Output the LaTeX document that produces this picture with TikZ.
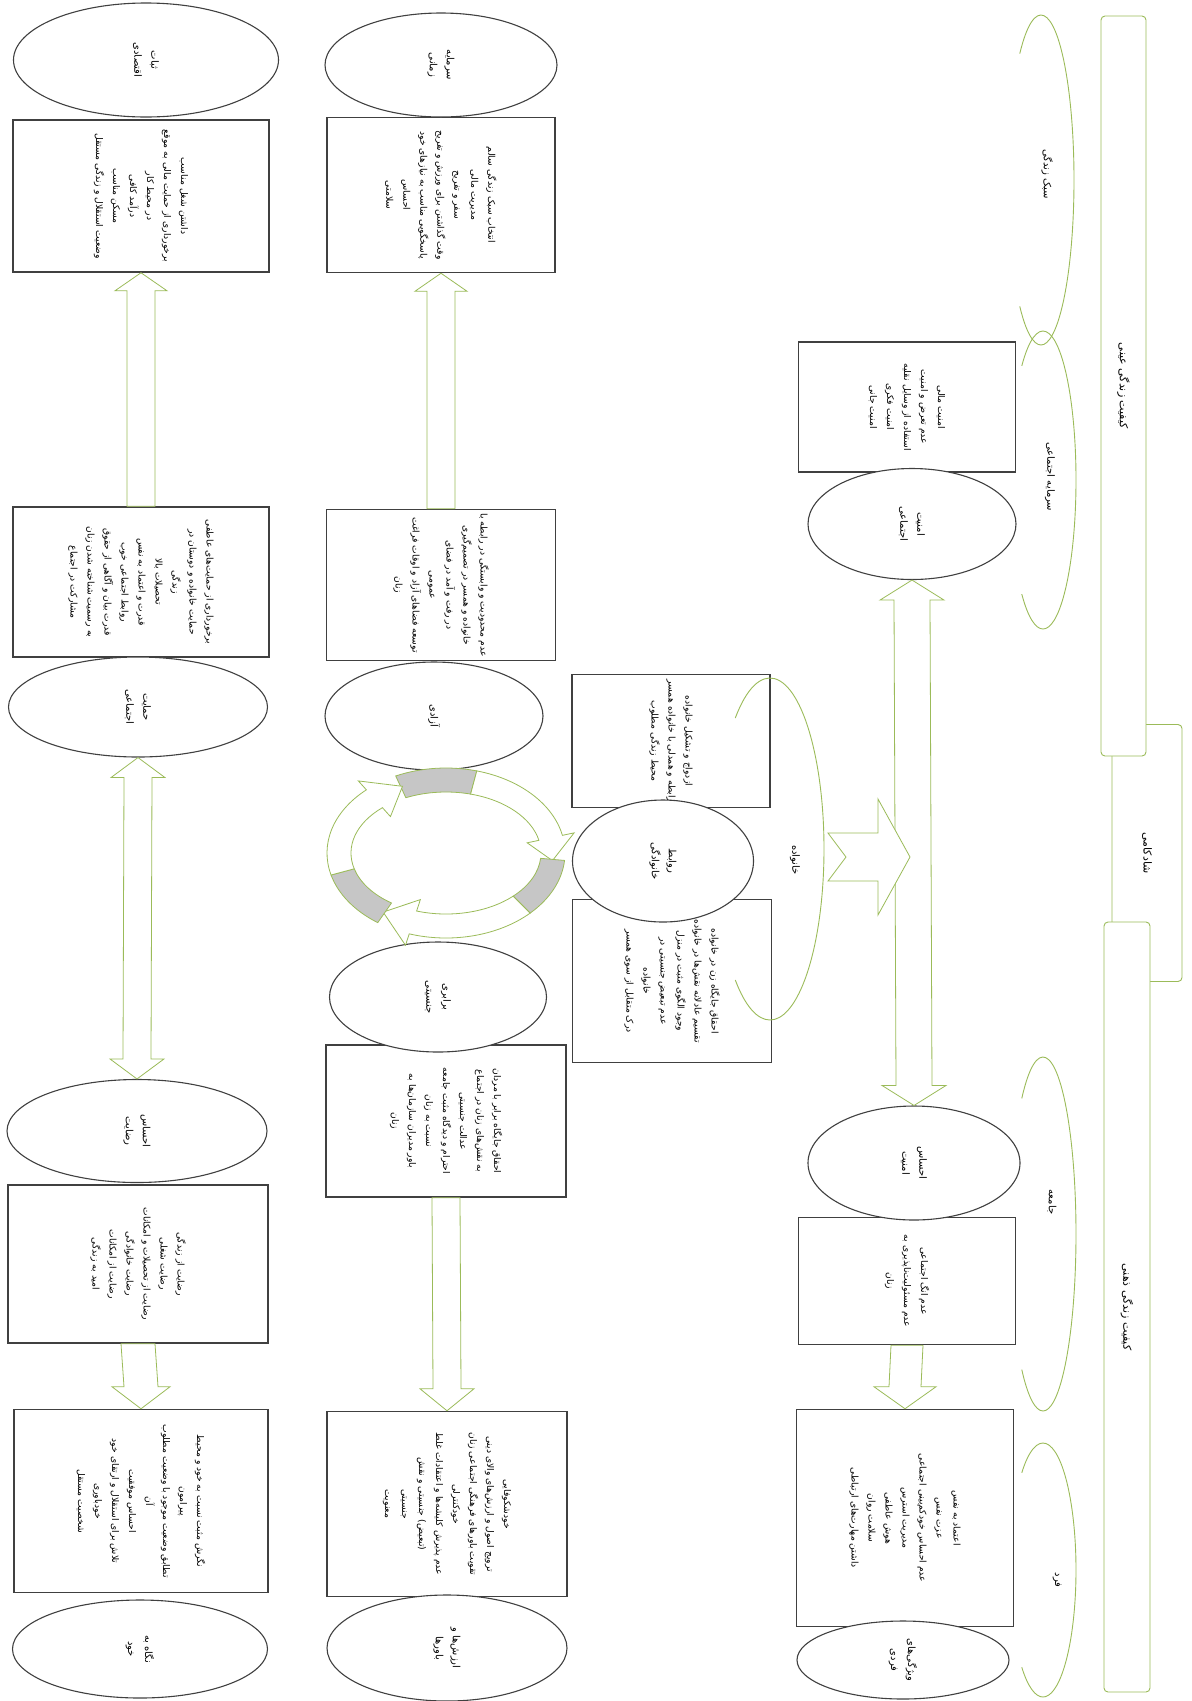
\documentclass[tikz,border=0pt]{standalone}
\usepackage{fontspec}
\newfontfamily\fafont[Script=Arabic]{DejaVu Sans}
\TeXXeTstate=1
\newcommand{\rl}[1]{\beginR#1\endR}
\definecolor{qlgreen}{HTML}{9BBB59}
\definecolor{qlgray}{HTML}{404040}
\usetikzlibrary{shapes.geometric, calc}

\begin{document}
\begin{tikzpicture}[
    x=1pt, y=-1pt,
    txt/.style={rotate=-90, align=center, inner sep=0pt,
                font=\fafont\fontsize{9.2}{17}\selectfont},
    itembox/.style={txt, draw=qlgray, line width=1.5pt, fill=white},
    factor/.style={txt, ellipse, draw=qlgray, line width=1.1pt, fill=white,
                   font=\fafont\fontsize{10}{17}\selectfont},
    qbar/.style={txt, draw=qlgreen, line width=0.9pt, rounded corners=4pt,
                 fill=white, font=\fafont\fontsize{11}{13}\selectfont},
    arclbl/.style={txt, font=\fafont\fontsize{10}{12}\selectfont},
    barr/.style={draw=qlgreen, line width=0.8pt, fill=white},
    garc/.style={draw=qlgreen, line width=0.9pt}
  ]
  \useasboundingbox (0,0) rectangle (1192,1701);

  % left column
  \node[itembox, minimum width=152pt, minimum height=256pt] (econbox) at (141,196)
    {\rl{داشتن شغل مناسب}\\\rl{برخورداری از حمایت مالی به موقع}\\\rl{در محیط کار}\\
     \rl{درآمد کافی}\\\rl{مسکن مناسب}\\\rl{وضعیت استقلال و زندگی مستقل}};
  \node[itembox, minimum width=150pt, minimum height=256pt] (suppbox) at (141,582)
    {\rl{برخورداری از حمایت‌های عاطفی}\\\rl{حمایت خانواده و دوستان در}\\\rl{زندگی}\\
     \rl{تحصیلات بالا}\\\rl{قدرت و اعتماد به نفس}\\\rl{روابط اجتماعی خوب}\\
     \rl{قدرت بیان و آگاهی از حقوق}\\\rl{به رسمیت شناخته شدن زنان}\\\rl{مشارکت در اجتماع}};
  \node[itembox, minimum width=158pt, minimum height=260pt] (satisbox) at (138,1264)
    {\rl{رضایت از زندگی}\\\rl{رضایت شغلی}\\\rl{رضایت از تحصیلات و امکانات}\\
     \rl{رضایت خانوادگی}\\\rl{رضایت از امکانات}\\\rl{امید به زندگی}};
  \node[itembox, minimum width=183pt, minimum height=254pt] (selfbox) at (141,1501)
    {\rl{نگرش مثبت نسبت به خود و محیط}\\\rl{پیرامون}\\\rl{تطابق وضعیت موجود با وضعیت مطلوب}\\
     \rl{آن}\\\rl{احساس موفقیت}\\\rl{تلاش برای استقلال و ارتقای خود}\\
     \rl{خودباوری}\\\rl{شخصیت مستقل}};

  % middle column
  \node[itembox, minimum width=155pt, minimum height=228pt] (capbox) at (441,195)
    {\rl{انتخاب سبک زندگی سالم}\\\rl{مدیریت مالی}\\\rl{سفر و تفریح}\\
     \rl{وقت گذاشتن برای ورزش و تفریح}\\\rl{پاسخگویی مناسب به نیازهای خود}\\
     \rl{احساس}\\\rl{سلامتی}};
  \node[itembox, minimum width=151pt, minimum height=229pt] (freebox) at (441,585)
    {\rl{عدم محدودیت و وابستگی در رابطه با}\\\rl{خانواده و همسر در تصمیم‌گیری}\\
     \rl{در رفت و آمد در فضای}\\\rl{عمومی}\\\rl{توسعه فضاهای آزاد و اوقات فراغت}\\\rl{زنان}};
  \node[itembox, minimum width=152pt, minimum height=240pt] (equalbox) at (446,1121)
    {\rl{احقاق جایگاه برابر با مردان}\\\rl{به نقش‌های زنان در اجتماع}\\
     \rl{عدالت جنسیتی}\\\rl{احترام و دیدگاه مثبت جامعه}\\\rl{نسبت به زنان}\\
     \rl{باور مدیران سازمان‌ها به}\\\rl{زنان}};
  \node[itembox, minimum width=185pt, minimum height=240pt] (beliefbox) at (447,1504)
    {\rl{خودشکوفایی}\\\rl{ترویج اصول و ارزش‌های والای دینی}\\
     \rl{تقویت باورهای فرهنگی اجتماعی زنان}\\\rl{خودکنترلی}\\
     \rl{عدم پذیرش کلیشه‌ها و اعتقادات غلط}\\\rl{(تبعیض) جنسیتی و نقش}\\
     \rl{جنسیتی}\\\rl{معنویت}};

  % family
  \node[itembox, minimum width=133pt, minimum height=198pt] (famtop) at (671,741)
    {\rl{ازدواج و تشکیل خانواده}\\\rl{رابطه و همدلی با خانواده همسر}\\\rl{محیط زندگی مطلوب}};
  \node[itembox, minimum width=163pt, minimum height=199pt] (fambot) at (672,981)
    {\rl{احقاق جایگاه زن در خانواده}\\\rl{تقسیم عادلانه نقش‌ها در خانواده}\\
     \rl{وجود الگوی مثبت در منزل}\\\rl{عدم تبعیض جنسیتی در}\\\rl{خانواده}\\
     \rl{درک متقابل از سوی همسر}};

  % right column
  \node[itembox, minimum width=130pt, minimum height=217pt] (secbox) at (907,407)
    {\rl{امنیت مالی}\\\rl{عدم تعرض و امنیت}\\\rl{استفاده از وسایل نقلیه}\\
     \rl{امنیت فکری}\\\rl{امنیت جانی}};
  \node[itembox, minimum width=127pt, minimum height=217pt] (feelbox) at (907,1281)
    {\rl{عدم انگ اجتماعی}\\\rl{عدم مسئولیت‌ناپذیری به}\\\rl{زنان}};
  \node[itembox, minimum width=217pt, minimum height=217pt] (indbox) at (905,1518)
    {\rl{اعتماد به نفس}\\\rl{عزت نفس}\\\rl{عدم احساس خودکم‌بینی اجتماعی}\\
     \rl{مدیریت استرس}\\\rl{هوش عاطفی}\\\rl{سلامت روان}\\\rl{داشتن مهارت‌های ارتباطی}};

  % ellipses
  \node[factor, minimum width=114pt, minimum height=265pt] (econ) at (146,60) {\rl{ثبات}\\\rl{اقتصادی}};
  \node[factor, minimum width=100pt, minimum height=259pt] (supp) at (138,707) {\rl{حمایت}\\\rl{اجتماعی}};
  \node[factor, minimum width=103pt, minimum height=260pt] (satis) at (137,1131) {\rl{احساس}\\\rl{رضایت}};
  \node[factor, minimum width=98pt, minimum height=255pt] (self) at (140,1649) {\rl{نگاه به}\\\rl{خود}};
  \node[factor, minimum width=104pt, minimum height=232pt] (cap) at (441,65) {\rl{سرمایه}\\\rl{زمانی}};
  \node[factor, minimum width=108pt, minimum height=218pt] (free) at (434,716) {\rl{آزادی}};
  \node[factor, minimum width=110pt, minimum height=217pt] (equal) at (438,997) {\rl{برابری}\\\rl{جنسیتی}};
  \node[factor, minimum width=106pt, minimum height=240pt] (belief) at (447,1648) {\rl{ارزش‌ها و}\\\rl{باورها}};
  \node[factor, minimum width=122pt, minimum height=181pt] (fam) at (663,861) {\rl{روابط}\\\rl{خانوادگی}};
  \node[factor, minimum width=111pt, minimum height=208pt] (socsec) at (912,524) {\rl{امنیت}\\\rl{اجتماعی}};
  \node[factor, minimum width=114pt, minimum height=212pt] (feelsec) at (914,1163) {\rl{احساس}\\\rl{امنیت}};
  \node[factor, minimum width=78pt, minimum height=212pt] (trait) at (903,1660) {\rl{ویژگی‌های}\\\rl{فردی}};

  % block arrows
  \foreach \lo/\hi in {suppbox/econbox, freebox/capbox}
    \draw[barr] ($(\lo.west)+(-14,0)$) -- ($(\hi.east)+(-14,18)$) -- ($(\hi.east)+(-26,18)$)
      -- (\hi.east) -- ($(\hi.east)+(26,18)$) -- ($(\hi.east)+(14,18)$) -- ($(\lo.west)+(14,0)$) -- cycle;
  \foreach \hi/\lo/\w/\h in {satisbox/selfbox/17/29, equalbox/beliefbox/14/27, feelbox/indbox/16/31}
    \draw[barr] ($(\hi.east)+(-\w,0)$) -- ($(\lo.west)+(-\w,-22)$) -- ($(\lo.west)+(-\h,-22)$)
      -- (\lo.west) -- ($(\lo.west)+(\h,-22)$) -- ($(\lo.west)+(\w,-22)$) -- ($(\hi.east)+(\w,0)$) -- cycle;
  \foreach \a/\b/\w/\h in {supp/satis/14/27, socsec/feelsec/18/32}
    \draw[barr] (\a.east) -- ($(\a.east)+(\h,20)$) -- ($(\a.east)+(\w,20)$) -- ($(\b.west)+(\w,-20)$)
      -- ($(\b.west)+(\h,-20)$) -- (\b.west) -- ($(\b.west)+(-\h,-20)$) -- ($(\b.west)+(-\w,-20)$)
      -- ($(\a.east)+(-\w,20)$) -- ($(\a.east)+(-\h,20)$) -- cycle;

  % family -> security
  \coordinate (famout) at (828,857);
  \coordinate (secin) at (910,857);
  \draw[barr] ($(famout)+(0,-24)$) -- ($(famout)+(50,-24)$) -- ($(famout)+(50,-58)$) -- (secin)
    -- ($(famout)+(50,58)$) -- ($(famout)+(50,24)$) -- ($(famout)+(0,24)$) -- ($(famout)+(18,0)$) -- cycle;

  % cycle
  \coordinate (cyc) at (446,853);
  \foreach \a/\b in {-115/-12, 5/108, 125/228} {
    \pgfmathsetmacro\m{\a+40}
    \pgfmathsetmacro\t{\b+18}
    \draw[draw=qlgreen, fill=gray!45, line width=0.8pt] ($(cyc)+(\a:119 and 85)$)
      arc[start angle=\a, end angle=\m, x radius=119, y radius=85]
      -- ($(cyc)+(\m:95 and 61)$) arc[start angle=\m, end angle=\a, x radius=95, y radius=61] -- cycle;
    \draw[barr] ($(cyc)+(\m:119 and 85)$) arc[start angle=\m, end angle=\b, x radius=119, y radius=85]
      -- ($(cyc)+(\b:131 and 97)$) -- ($(cyc)+(\t:107 and 73)$) -- ($(cyc)+(\b:83 and 49)$)
      -- ($(cyc)+(\b:95 and 61)$) arc[start angle=\b, end angle=\m, x radius=95, y radius=61] -- cycle;
  }

  % dimension arcs
  \foreach \cx/\cy/\rx/\ry in {1041/180/33/165, 1043/480/33/149, 770/849/54/171,
                               1043/1234/33/177, 1043/1570/33/127}
    \draw[garc] ($(\cx,\cy)+({-0.6428*\rx},{-0.766*\ry})$) arc[start angle=-130, end angle=130, x radius=\rx, y radius=\ry];
  \node[arclbl] (lstyle) at (1047,174) {\rl{سبک زندگی}};
  \node[arclbl] (scap) at (1050,477) {\rl{سرمایه اجتماعی}};
  \node[arclbl] (family) at (795,860) {\rl{خانواده}};
  \node[arclbl] (society) at (1052,1202) {\rl{جامعه}};
  \node[arclbl] (person) at (1057,1580) {\rl{فرد}};

  % quality of life
  \node[qbar, minimum width=257pt, minimum height=70pt] (happy) at (1147,853) {\rl{شادکامی}};
  \node[qbar, minimum width=740pt, minimum height=45pt] (objq) at (1123.5,386) {\rl{کیفیت زندگی عینی}};
  \node[qbar, minimum width=770pt, minimum height=46pt] (subjq) at (1127,1307) {\rl{کیفیت زندگی ذهنی}};
\end{tikzpicture}
\end{document}
